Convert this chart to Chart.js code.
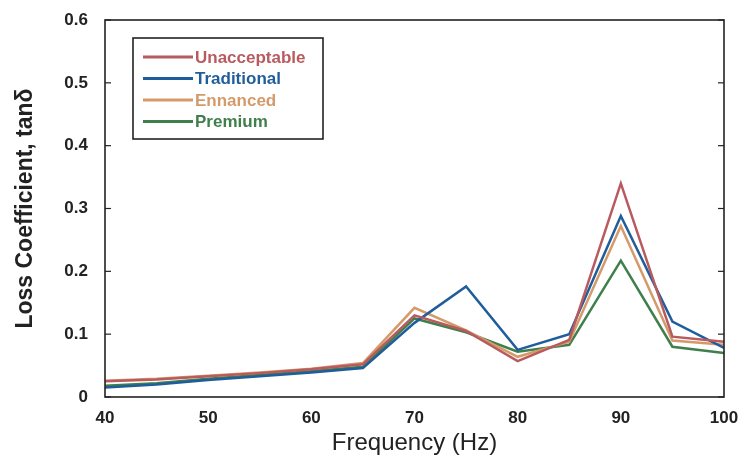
<!DOCTYPE html>
<html><head><meta charset="utf-8">
<script src="https://cdn.jsdelivr.net/npm/chart.js@4/dist/chart.umd.min.js"></script>
<style>html,body{margin:0;padding:0;background:#fff}#w{width:743px;height:461px}</style>
</head><body><div id="w"><canvas id="c" width="743" height="461"></canvas></div>
<script>
const frequencies = [40, 45, 50, 55, 60, 65, 70, 75, 80, 85, 90, 95, 100];
const unacceptable = [0.025, 0.028, 0.033, 0.038, 0.044, 0.052, 0.130, 0.105, 0.057, 0.091, 0.340, 0.096, 0.088];
const traditional  = [0.015, 0.020, 0.027, 0.033, 0.039, 0.046, 0.118, 0.176, 0.075, 0.100, 0.288, 0.120, 0.078];
const enhanced     = [0.026, 0.029, 0.034, 0.039, 0.045, 0.054, 0.142, 0.106, 0.064, 0.088, 0.272, 0.090, 0.083];
const premium      = [0.018, 0.022, 0.029, 0.035, 0.041, 0.048, 0.125, 0.103, 0.072, 0.083, 0.217, 0.080, 0.070];
const seriesNames = ['Unacceptable', 'Traditional', 'Ennanced', 'Premium'];
const yTicks = [0, 0.1, 0.2, 0.3, 0.4, 0.5, 0.6];
const xTicks = [40, 50, 60, 70, 80, 90, 100];

const colors = ['#b85a5e', '#1f5e9a', '#d49a6a', '#3f7f4c'];
const toPts = arr => frequencies.map((f, i) => ({x: f, y: arr[i]}));
const allSeries = [unacceptable, traditional, enhanced, premium];
const FONT = '"Liberation Sans", Arial, sans-serif';

const framePlugin = {
  id: 'frame',
  afterDatasetsDraw(chart) {
    const {ctx, chartArea: a, scales} = chart;
    ctx.save();
    ctx.strokeStyle = '#222';
    ctx.lineWidth = 1.6;
    ctx.strokeRect(a.left, a.top, a.right - a.left, a.bottom - a.top);
    ctx.lineWidth = 1.2;
    yTicks.forEach(v => {
      const y = scales.y.getPixelForValue(v);
      ctx.beginPath(); ctx.moveTo(a.left, y); ctx.lineTo(a.left + 6, y); ctx.stroke();
      ctx.beginPath(); ctx.moveTo(a.right, y); ctx.lineTo(a.right - 6, y); ctx.stroke();
    });
    // legend box
    const bx = 133, by = 38, bw = 190, bh = 101;
    ctx.strokeStyle = '#222';
    ctx.lineWidth = 1.6;
    ctx.strokeRect(bx, by, bw, bh);
    chart.data.datasets.forEach((ds, i) => {
      const y = 57 + i * 21.5;
      ctx.strokeStyle = ds.borderColor;
      ctx.lineWidth = 2.8;
      ctx.beginPath(); ctx.moveTo(143, y); ctx.lineTo(193, y); ctx.stroke();
      ctx.fillStyle = ds.borderColor;
      ctx.font = 'bold 17px ' + FONT;
      ctx.textBaseline = 'middle';
      ctx.fillText(ds.label, 195, y + 1);
    });
    ctx.restore();
  }
};

new Chart(document.getElementById('c'), {
  type: 'line',
  data: {
    datasets: allSeries.map((s, i) => ({
      label: seriesNames[i],
      data: toPts(s),
      borderColor: colors[i],
      backgroundColor: colors[i],
      borderWidth: 2.5,
      pointRadius: 0,
      tension: 0
    }))
  },
  options: {
    responsive: false,
    animation: false,
    layout: {padding: {top: 20, right: 19, left: 0, bottom: 0}},
    plugins: {legend: {display: false}, tooltip: {enabled: false}},
    scales: {
      x: {
        type: 'linear', min: 40, max: 100,
        afterBuildTicks: s => { s.ticks = xTicks.map(v => ({value: v})); },
        afterFit: s => { s.height = 64; },
        grid: {display: false},
        border: {display: false},
        ticks: {color: '#222', font: {family: FONT, size: 17, weight: 'bold'}, padding: 3, maxRotation: 0},
        title: {display: true, text: 'Frequency (Hz)', color: '#222', font: {family: FONT, size: 24}, padding: {top: 0, bottom: 3}}
      },
      y: {
        min: 0, max: 0.6,
        afterBuildTicks: s => { s.ticks = yTicks.map(v => ({value: v})); },
        afterFit: s => { s.width = 105; },
        grid: {display: false},
        border: {display: false},
        ticks: {color: '#222', font: {family: FONT, size: 17, weight: 'bold'}, padding: 9,
          callback: v => v === 0 ? '0' : v.toFixed(1)},
        title: {display: true, text: 'Loss Coefficient, tanδ', color: '#222', font: {family: FONT, size: 23, weight: 'bold'}, padding: {top: 12, bottom: 0}}
      }
    }
  },
  plugins: [framePlugin]
});
</script></body></html>
